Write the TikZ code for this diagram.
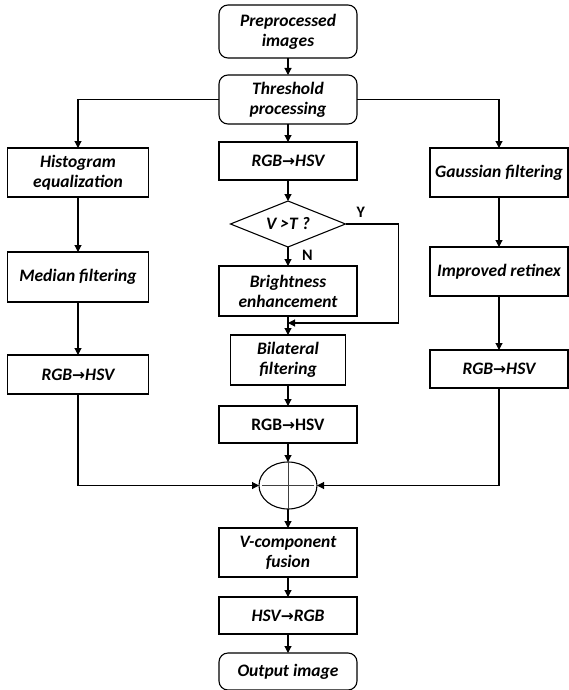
\documentclass[tikz,border=0pt]{standalone}
\usepackage{fontspec}
\setmainfont{Carlito}
\newfontfamily\symfont{DejaVu Sans}
\usetikzlibrary{arrows.meta,positioning,shapes.geometric,calc}
\newcommand{\toarr}{{\upshape\symfont\bfseries\fontsize{15.5}{17}\selectfont →}}
\tikzset{
  flowbox/.style={draw, line width=1.1pt, align=center, inner sep=0pt, outer sep=0pt,
    font=\bfseries\itshape\fontsize{17.5}{20}\selectfont,
    minimum width=138pt, minimum height=49pt},
  lowbox/.style={flowbox, minimum height=38pt},
  termbox/.style={flowbox, rounded corners=9pt},
  decbox/.style={flowbox, diamond, aspect=2.5, minimum width=115pt, minimum height=46pt},
  sumnode/.style={draw, ellipse, line width=1.1pt, inner sep=0pt, outer sep=0pt,
    minimum width=58pt, minimum height=47pt},
  yesno/.style={inner sep=0pt, font=\bfseries\fontsize{16}{18}\selectfont},
  flowarrow/.style={-{Triangle[length=7pt,width=7pt]}, line width=1.1pt}
}

\begin{document}
\begin{tikzpicture}[x=1pt, y=1pt, node distance=19pt]
    \useasboundingbox (0,0) rectangle (568,-690);
    % middle column
    \node[termbox, minimum height=53pt] (pre) at (288,-31.5) {Preprocessed\\images};
    \node[termbox, below=17pt of pre] (thr) {Threshold\\processing};
    \node[lowbox, below=18pt of thr] (rgbm) {RGB\toarr HSV};
    \node[decbox, below=21pt of rgbm] (dia) {V >T ?};
    \node[flowbox, minimum height=50pt, below=of dia] (bright) {Brightness\\enhancement};
    \coordinate (merge) at ($(bright.south)+(0,-7)$);
    \node[flowbox, minimum width=115pt, minimum height=50pt, below=of bright] (bil) {Bilateral\\filtering};
    \node[lowbox, minimum height=37pt, below=21pt of bil, font=\bfseries\upshape\fontsize{17.5}{20}\selectfont] (rgbb) {RGB\toarr HSV};
    \node[sumnode, below=of rgbb] (sum) {};
    \node[flowbox, below=of sum] (fusion) {V-component\\fusion};
    \node[lowbox, minimum height=37pt, below=20pt of fusion] (hsv) {HSV\toarr RGB};
    \node[termbox, minimum height=37pt, below=of hsv] (out) {Output image};
    % left column
    \node[flowbox, minimum width=141pt] (hist) at (78,-172.5) {Histogram\\equalization};
    \node[flowbox, minimum width=141pt, minimum height=50pt, below=55pt of hist] (median) {Median filtering};
    \node[lowbox, minimum width=141pt, minimum height=39pt, below=53pt of median] (rgbl) {RGB\toarr HSV};
    % right column
    \node[flowbox] (gauss) at (499,-172.5) {Gaussian filtering};
    \node[flowbox, below=50pt of gauss] (retinex) {Improved retinex};
    \node[lowbox, below=54pt of retinex] (rgbr) {RGB\toarr HSV};
    % labels
    \node[yesno, above right=6pt and 11pt of dia.east] (ylab) {Y};
    \node[yesno, below right=3pt and 14pt of dia.south] (nlab) {N};
    % plus sign
    \draw[line width=0.9pt, black!75] (sum.north) -- (sum.south);
    \draw[line width=0.9pt, black!75] ($(sum.west)+(3,0)$) -- ($(sum.east)+(-3,0)$);
    % connectors
    \draw[flowarrow] (pre) -- (thr);
    \draw[flowarrow] (thr) -- (rgbm);
    \draw[flowarrow] (thr.west) -| (hist.north);
    \draw[flowarrow] (thr.east) -| (gauss.north);
    \draw[flowarrow] (hist) -- (median);
    \draw[flowarrow] (median) -- (rgbl);
    \draw[flowarrow] (gauss) -- (retinex);
    \draw[flowarrow] (retinex) -- (rgbr);
    \draw[flowarrow] (rgbm) -- (dia);
    \draw[flowarrow] (dia) -- (bright);
    \draw[flowarrow] (bright) -- (bil);
    \draw[flowarrow] (dia.east) -- ++(53,0) |- (merge);
    \draw[flowarrow] (bil) -- (rgbb);
    \draw[flowarrow] (rgbb) -- (sum);
    \draw[flowarrow] (rgbl.south) |- (sum.west);
    \draw[flowarrow] (rgbr.south) |- (sum.east);
    \draw[flowarrow] (sum) -- (fusion);
    \draw[flowarrow] (fusion) -- (hsv);
    \draw[flowarrow] (hsv) -- (out);
\end{tikzpicture}
\end{document}
